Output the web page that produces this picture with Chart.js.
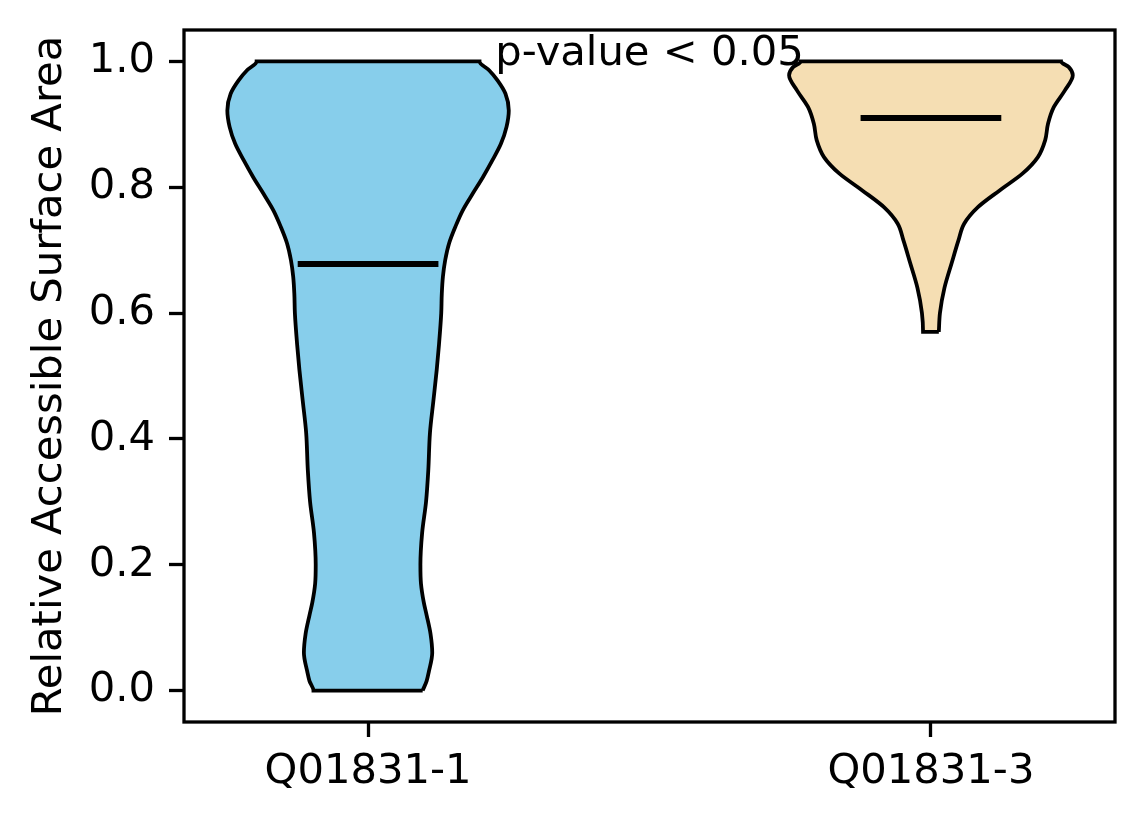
<!DOCTYPE html>
<html>
<head>
<meta charset="utf-8">
<script src="https://cdn.jsdelivr.net/npm/chart.js@4/dist/chart.umd.min.js"></script>
<style>
  html, body { margin: 0; padding: 0; background: #fff; }
  #wrap { width: 1144px; height: 824px; }
</style>
</head>
<body>
<div id="wrap"><canvas id="chart" width="1144" height="824"></canvas></div>
<script>
// categories and where they sit on the x axis
const categories = ['Q01831-1', 'Q01831-3']
const positions = [1, 2]
const yTicks = [0, 0.2, 0.4, 0.6, 0.8, 1.0]

// violin outlines: y value and half width (x units)
const violin1Y    = [0.000, 0.015, 0.030, 0.060, 0.090, 0.120, 0.140, 0.170, 0.200, 0.250, 0.300, 0.350, 0.410, 0.460, 0.510, 0.550, 0.600, 0.631, 0.658, 0.684, 0.711, 0.737, 0.763, 0.790, 0.816, 0.843, 0.869, 0.896, 0.922, 0.949, 0.970, 0.986, 1.000]
const violin1Half = [0.097, 0.104, 0.108, 0.114, 0.111, 0.104, 0.099, 0.094, 0.093, 0.096, 0.103, 0.107, 0.110, 0.116, 0.122, 0.126, 0.130, 0.131, 0.133, 0.137, 0.144, 0.155, 0.168, 0.186, 0.204, 0.221, 0.236, 0.246, 0.250, 0.244, 0.230, 0.215, 0.198]

const violin2Y    = [0.570, 0.600, 0.640, 0.680, 0.716, 0.742, 0.768, 0.795, 0.822, 0.848, 0.875, 0.901, 0.927, 0.954, 0.978, 0.991, 1.000]
const violin2Half = [0.014, 0.016, 0.024, 0.037, 0.049, 0.059, 0.083, 0.122, 0.163, 0.190, 0.203, 0.208, 0.218, 0.238, 0.252, 0.245, 0.231]

const means = [0.678, 0.910]
const meanHalf = 0.125

const pText = 'p-value < 0.05'
const pTextX = 1.5
const pTextY = 1.0

const colors = ['#87CEEB', '#F5DEB3']
const FONT = 'DejaVu Sans'
const FS = 41.7

// build a closed outline: up the right side, down the left side
const outline = (pos, ys, halves) => {
    const pts = []
    for (let i = 0; i < ys.length; i++) pts.push({ x: pos + halves[i], y: ys[i] })
    for (let i = ys.length - 1; i >= 0; i--) pts.push({ x: pos - halves[i], y: ys[i] })
    pts.push({ x: pos + halves[0], y: ys[0] })
    return pts
}

const violins = [
    outline(positions[0], violin1Y, violin1Half),
    outline(positions[1], violin2Y, violin2Half)
]

const datasets = []
means.forEach((m, i) => {
    datasets.push({
        data: [{ x: positions[i] - meanHalf, y: m }, { x: positions[i] + meanHalf, y: m }],
        borderColor: '#000',
        borderWidth: 6,
        borderCapStyle: 'butt',
        pointRadius: 0,
        fill: false,
        order: 0
    })
})
violins.forEach((v, i) => {
    datasets.push({
        data: v,
        indexAxis: 'y',
        borderColor: '#000',
        borderWidth: 3.8,
        borderJoinStyle: 'miter',
        backgroundColor: colors[i],
        pointRadius: 0,
        cubicInterpolationMode: 'monotone',
        fill: 'shape',
        order: 1
    })
})

// frame + annotation text
const framePlugin = {
    id: 'frame',
    afterDatasetsDraw(chart) {
        const { ctx, scales } = chart
        ctx.save()
        ctx.fillStyle = '#000'
        ctx.font = `${FS}px "${FONT}"`
        ctx.textAlign = 'center'
        ctx.textBaseline = 'alphabetic'
        ctx.fillText(pText, scales.x.getPixelForValue(pTextX), scales.y.getPixelForValue(pTextY) + 4)
        ctx.restore()
    },
    afterDraw(chart) {
        const { ctx, chartArea: a } = chart
        ctx.save()
        ctx.strokeStyle = '#000'
        ctx.lineWidth = 3.3
        ctx.strokeRect(a.left, a.top, a.right - a.left, a.bottom - a.top)
        ctx.restore()
    }
}

new Chart(document.getElementById('chart'), {
    type: 'line',
    data: { datasets },
    plugins: [framePlugin],
    options: {
        responsive: false,
        devicePixelRatio: 1,
        animation: false,
        layout: { padding: { top: 30, right: 29, left: 0, bottom: 0 } },
        plugins: { legend: { display: false }, tooltip: { enabled: false } },
        scales: {
            x: {
                type: 'linear',
                min: 0.673,
                max: 2.327,
                border: { display: false },
                grid: { drawOnChartArea: false, drawTicks: true, tickLength: 15, tickWidth: 3.3, tickColor: '#000' },
                afterBuildTicks: (s) => { s.ticks = positions.map(v => ({ value: v })) },
                afterFit: (s) => { s.height = 102; s.paddingLeft = 0; s.paddingRight = 0 },
                ticks: {
                    color: '#000',
                    padding: 10,
                    maxRotation: 0,
                    font: { family: FONT, size: FS },
                    callback: (v) => categories[positions.indexOf(v)]
                }
            },
            y: {
                type: 'linear',
                min: -0.05,
                max: 1.05,
                border: { display: false },
                grid: { drawOnChartArea: false, drawTicks: true, tickLength: 15, tickWidth: 3.3, tickColor: '#000' },
                afterBuildTicks: (s) => { s.ticks = yTicks.map(v => ({ value: v })) },
                afterFit: (s) => { s.width = 184; s.paddingTop = 0; s.paddingBottom = 0 },
                ticks: {
                    color: '#000',
                    padding: 14,
                    font: { family: FONT, size: FS },
                    callback: (v) => v.toFixed(1)
                },
                title: {
                    display: true,
                    text: 'Relative Accessible Surface Area',
                    color: '#000',
                    font: { family: FONT, size: FS, lineHeight: 1.2 },
                    padding: { top: 25, bottom: 0 }
                }
            }
        }
    }
})
</script>
</body>
</html>
